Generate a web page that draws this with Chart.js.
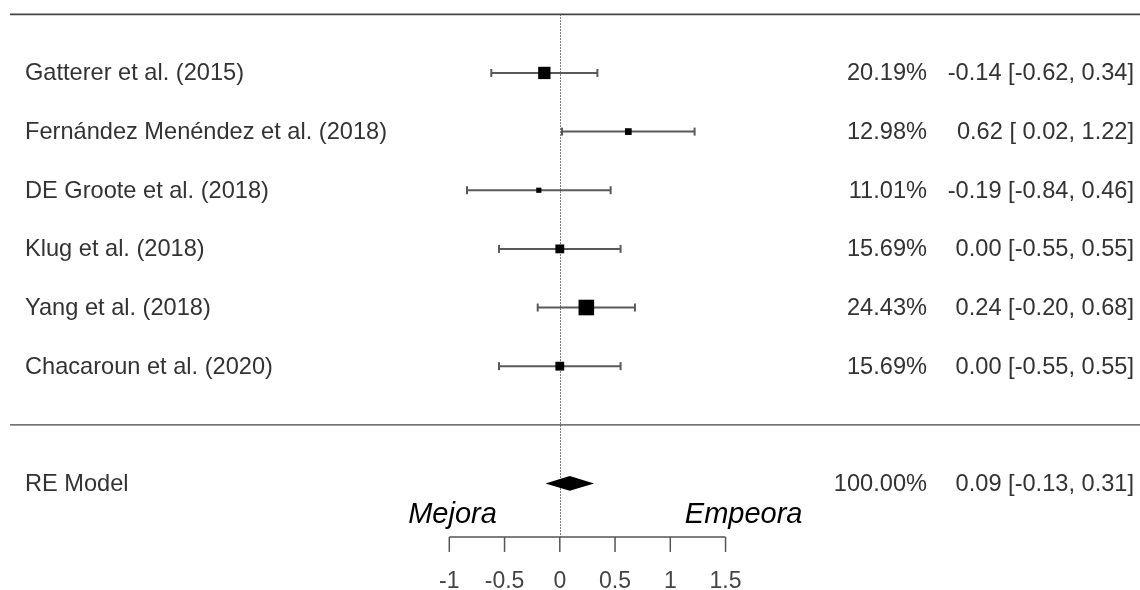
<!DOCTYPE html>
<html>
<head>
<meta charset="utf-8">
<script src="https://cdn.jsdelivr.net/npm/chart.js@4/dist/chart.umd.min.js"></script>
<style>
  html, body { margin: 0; padding: 0; background: #fff; }
  #wrap { width: 1140px; height: 590px; position: relative; }
</style>
</head>
<body>
<div id="wrap"><canvas id="c"></canvas></div>
<script>
// ---- data ----
const studies = [
  'Gatterer et al. (2015)',
  'Fernández Menéndez et al. (2018)',
  'DE Groote et al. (2018)',
  'Klug et al. (2018)',
  'Yang et al. (2018)',
  'Chacaroun et al. (2020)'
];
const estimates = [-0.14, 0.62, -0.19, 0.00, 0.24, 0.00];
const lowerCI   = [-0.62, 0.02, -0.84, -0.55, -0.20, -0.55];
const upperCI   = [0.34, 1.22, 0.46, 0.55, 0.68, 0.55];
const weights   = [20.19, 12.98, 11.01, 15.69, 24.43, 15.69];
const rows      = [6, 5, 4, 3, 2, 1];

const modelLabel    = 'RE Model';
const modelEstimate = 0.09;
const modelLower    = -0.13;
const modelUpper    = 0.31;
const modelWeight   = 100.00;
const modelRow      = -1;

const tickValues = [-1, -0.5, 0, 0.5, 1, 1.5];
const tickLabels = ['-1', '-0.5', '0', '0.5', '1', '1.5'];
const leftDirection  = 'Mejora';
const rightDirection = 'Empeora';

// ---- helpers ----
const FONT = '"Liberation Sans", Arial, Helvetica, sans-serif';
const TXT = '#333';
const fmt = v => v.toFixed(2);
const padFmt = v => (v >= 0 ? ' ' : '') + v.toFixed(2);
const ciText = (e, l, u) => `${fmt(e)} [${padFmt(l)}, ${fmt(u)}]`;
const wMin = Math.min(...weights), wMax = Math.max(...weights);
const squareSide = i => 10.4 * (0.5 + (weights[i] - wMin) / (wMax - wMin));

const ciDatasets = studies.map((s, i) => ({
  type: 'line',
  label: s + ' CI',
  data: [{x: lowerCI[i], y: rows[i]}, {x: upperCI[i], y: rows[i]}],
  borderColor: '#5a5a5a',
  borderWidth: 2,
  pointStyle: 'line',
  pointRotation: 90,
  pointRadius: 4,
  pointBorderColor: '#5a5a5a',
  pointBorderWidth: 2,
  order: 2
}));

const pointsDataset = {
  type: 'scatter',
  label: 'Estimates',
  data: studies.map((s, i) => ({x: estimates[i], y: rows[i]})),
  pointStyle: 'rect',
  pointRadius: ctx => squareSide(ctx.dataIndex) / (2 * Math.SQRT1_2),
  backgroundColor: '#000',
  borderColor: '#000',
  borderWidth: 0,
  order: 0
};

const forestPlugin = {
  id: 'forest',
  beforeDatasetsDraw(chart) {
    const {ctx, scales: {x, y}, chartArea} = chart;
    const topY = y.getPixelForValue(7);
    const sepY = y.getPixelForValue(0);
    const axisY = y.getPixelForValue(modelRow) + 53.5;
    ctx.save();
    ctx.strokeStyle = '#444';
    ctx.lineWidth = 1.8;
    ctx.beginPath(); ctx.moveTo(10, topY); ctx.lineTo(chartArea.right, topY); ctx.stroke();
    ctx.lineWidth = 1.3;
    ctx.beginPath(); ctx.moveTo(10, sepY); ctx.lineTo(chartArea.right, sepY); ctx.stroke();
    // dotted reference line at 0
    const x0 = Math.round(x.getPixelForValue(0)) + 0.5;
    ctx.strokeStyle = '#555';
    ctx.lineWidth = 1;
    ctx.setLineDash([1.5, 1.5]);
    ctx.beginPath(); ctx.moveTo(x0, topY); ctx.lineTo(x0, axisY); ctx.stroke();
    ctx.restore();
  },
  afterDatasetsDraw(chart) {
    const {ctx, scales: {x, y}} = chart;
    ctx.save();
    // diamond for the model
    const my = y.getPixelForValue(modelRow);
    const h = 7.4;
    ctx.fillStyle = '#000';
    ctx.beginPath();
    ctx.moveTo(x.getPixelForValue(modelLower), my);
    ctx.lineTo(x.getPixelForValue(modelEstimate), my - h);
    ctx.lineTo(x.getPixelForValue(modelUpper), my);
    ctx.lineTo(x.getPixelForValue(modelEstimate), my + h);
    ctx.closePath();
    ctx.fill();

    // x axis
    const axisY = my + 53.5;
    ctx.strokeStyle = '#555';
    ctx.lineWidth = 1.5;
    ctx.beginPath();
    ctx.moveTo(x.getPixelForValue(tickValues[0]), axisY);
    ctx.lineTo(x.getPixelForValue(tickValues[tickValues.length - 1]), axisY);
    ctx.stroke();
    ctx.font = '23px ' + FONT;
    ctx.fillStyle = '#444';
    ctx.textAlign = 'center';
    ctx.textBaseline = 'alphabetic';
    tickValues.forEach((v, i) => {
      const px = x.getPixelForValue(v);
      ctx.beginPath(); ctx.moveTo(px, axisY); ctx.lineTo(px, axisY + 15); ctx.stroke();
      ctx.fillText(tickLabels[i], px, axisY + 51);
    });

    // direction labels
    ctx.font = 'italic 29px ' + FONT;
    ctx.fillStyle = '#000';
    const x0 = x.getPixelForValue(0);
    ctx.textAlign = 'right';
    ctx.fillText(leftDirection, x0 - 63, my + 39.5);
    ctx.textAlign = 'left';
    ctx.fillText(rightDirection, x0 + 125, my + 39.5);

    // study labels and annotations
    ctx.font = '23.6px ' + FONT;
    ctx.fillStyle = TXT;
    studies.forEach((s, i) => {
      const ry = y.getPixelForValue(rows[i]) + 7.5;
      ctx.textAlign = 'left';
      ctx.fillText(s, 25, ry);
      ctx.textAlign = 'right';
      ctx.fillText(weights[i].toFixed(2) + '%', 927, ry);
      ctx.fillText(ciText(estimates[i], lowerCI[i], upperCI[i]), 1134, ry);
    });
    const ry = my + 7.5;
    ctx.textAlign = 'left';
    ctx.fillText(modelLabel, 25, ry);
    ctx.textAlign = 'right';
    ctx.fillText(modelWeight.toFixed(2) + '%', 927, ry);
    ctx.fillText(ciText(modelEstimate, modelLower, modelUpper), 1134, ry);
    ctx.restore();
  }
};

new Chart(document.getElementById('c'), {
  type: 'scatter',
  data: { datasets: [pointsDataset, ...ciDatasets] },
  options: {
    responsive: true,
    maintainAspectRatio: false,
    animation: false,
    events: [],
    layout: { padding: 0, autoPadding: false },
    plugins: { legend: { display: false }, tooltip: { enabled: false } },
    scales: {
      x: { type: 'linear', display: false, min: -5.0661, max: 5.2507 },
      y: { type: 'linear', display: false, min: -2.817, max: 7.244 }
    }
  },
  plugins: [forestPlugin]
});
</script>
</body>
</html>
